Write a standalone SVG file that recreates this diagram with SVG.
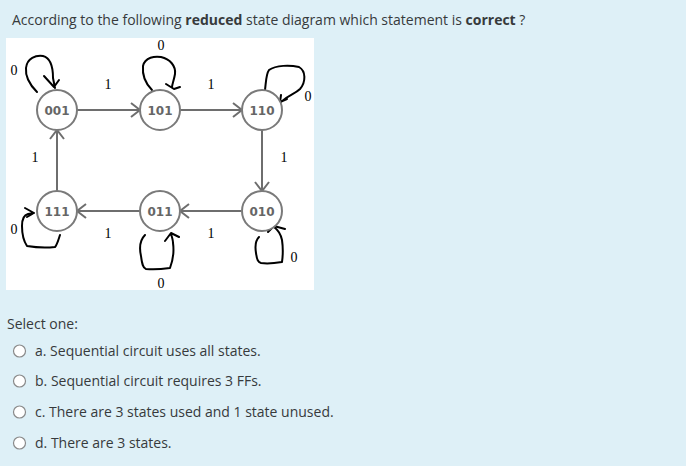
<svg xmlns="http://www.w3.org/2000/svg" width="686" height="466" viewBox="0 0 686 466">
<style>
.t{font-family:"Open Sans","Liberation Sans",sans-serif;font-size:14px;fill:#373a3c}
.b{font-weight:bold}
.st{fill:#fff;stroke:#7a7a7a;stroke-width:2}
.sl{font-family:"DejaVu Sans",sans-serif;font-weight:bold;font-size:12px;fill:#666;text-anchor:middle}
.e{stroke:#6e6e6e;stroke-width:2;fill:none}
.lp{stroke:#000;stroke-width:2;fill:none;stroke-linecap:round;stroke-linejoin:round}
.lb{font-family:"Liberation Serif",serif;font-size:14px;fill:#000;text-anchor:middle}
.rb{fill:#fff;stroke:#8a8a8a;stroke-width:1.2}
</style>
<rect width="686" height="466" fill="#def0f7"/>
<text class="t" x="12" y="25">According to the following <tspan class="b">reduced</tspan> state diagram which statement is <tspan class="b">correct</tspan> ?</text>
<rect x="6" y="38" width="308" height="252" fill="#fff"/>
<g id="connectors">
<path class="e" d="M77 110H140M131 103L140 110L131 117"/>
<path class="e" d="M180 110H242M233 103L242 110L233 117"/>
<path class="e" d="M262 130V191M255 182L262 191L269 182"/>
<path class="e" d="M241 211H180M189 204L180 211L189 218"/>
<path class="e" d="M140 211H77M86 204L77 211L86 218"/>
<path class="e" d="M57 191V130M50 139L57 130L64 139"/>
<path class="lp" d="M37 92C31 86 25 78 26 68C27 58 36 55 43 56C51 58 53 68 53 78L55 88M44 76L54 87L59 80"/>
<path class="lp" d="M152 90C146 84 142 76 143 66C145 57 155 56 161 57C170 59 176 66 175 74C174 80 172 85 172 87M166 84L174 89L180 87"/>
<path class="lp" d="M265 90C266 82 266 74 269 70C276 65 290 65 299 67C306 71 306 82 300 89C295 94 288 95 281 102M281 95L280 102L287 99"/>
<path class="lp" d="M60 235C58 241 57 245 55 247C45 248 33 247 27 246C23 240 22 232 22 226C22 220 24 215 28 214L34 213M25 208L34 213L27 217"/>
<path class="lp" d="M145 235C140 240 139 247 141 256C142 264 143 268 146 269C155 270 163 269 170 268C173 260 174 250 173 243C173 240 172 237 171 234M165 241L171 233L179 237"/>
<path class="lp" d="M259 237C255 241 255 247 256 253C257 260 258 262 261 263C268 264 276 263 282 262C283 255 283 247 282 240C281 235 278 230 274 227M268 232L274 226L285 229"/>
</g>
<g id="s001"><circle class="st" cx="57" cy="110" r="20"/><text class="sl" x="57" y="114.5">001</text></g>
<g id="s101"><circle class="st" cx="160" cy="110" r="20"/><text class="sl" x="160" y="114.5">101</text></g>
<g id="s110"><circle class="st" cx="262" cy="110" r="20"/><text class="sl" x="262" y="114.5">110</text></g>
<g id="s111"><circle class="st" cx="57" cy="211" r="20"/><text class="sl" x="57" y="215.5">111</text></g>
<g id="s011"><circle class="st" cx="160" cy="211" r="20"/><text class="sl" x="160" y="215.5">011</text></g>
<g id="s010"><circle class="st" cx="262" cy="211" r="20"/><text class="sl" x="262" y="215.5">010</text></g>
<g id="labels">
<text class="lb" x="108" y="89">1</text>
<text class="lb" x="211" y="89">1</text>
<text class="lb" x="35" y="162">1</text>
<text class="lb" x="284" y="162">1</text>
<text class="lb" x="108" y="238">1</text>
<text class="lb" x="211" y="238">1</text>
<text class="lb" x="161" y="50">0</text>
<text class="lb" x="14" y="75">0</text>
<text class="lb" x="308" y="101">0</text>
<text class="lb" x="14" y="234">0</text>
<text class="lb" x="161" y="288">0</text>
<text class="lb" x="294" y="262">0</text>
</g>
<text class="t" x="7" y="329">Select one:</text>
<circle class="rb" cx="19.5" cy="351" r="6"/>
<text class="t" x="35" y="356">a. Sequential circuit uses all states.</text>
<circle class="rb" cx="19.5" cy="381" r="6"/>
<text class="t" x="35" y="386">b. Sequential circuit requires 3 FFs.</text>
<circle class="rb" cx="19.5" cy="412" r="6"/>
<text class="t" x="35" y="417">c. There are 3 states used and 1 state unused.</text>
<circle class="rb" cx="19.5" cy="443" r="6"/>
<text class="t" x="35" y="448">d. There are 3 states.</text>
</svg>
